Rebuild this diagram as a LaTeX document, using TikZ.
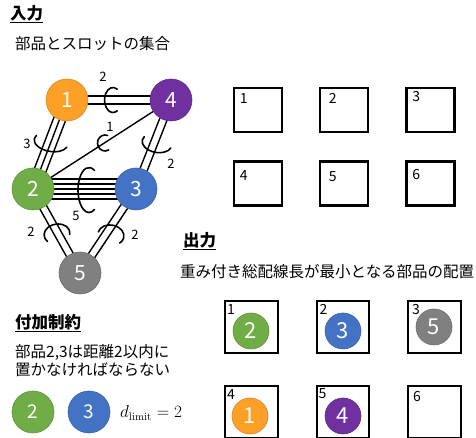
\documentclass[tikz,border=0pt]{standalone}
\usepackage[no-math]{fontspec}
\setmainfont{Noto Sans CJK JP}
\usetikzlibrary{calc}
\definecolor{corange}{RGB}{252,160,40}
\definecolor{cpurple}{RGB}{112,48,160}
\definecolor{cgreen}{RGB}{112,173,71}
\definecolor{cblue}{RGB}{68,114,196}
\definecolor{cgrey}{RGB}{128,128,128}
\pgfdeclarelayer{bg}
\pgfsetlayers{bg,main}
\newcommand{\bundle}[4]{%
  \foreach \k in {1,...,#3}{%
    \pgfmathsetmacro\off{(\k-(#3+1)/2)*#4}%
    \draw[wire] ($(#1)!\off pt!90:(#2)$) -- ($(#2)!\off pt!-90:(#1)$);
  }}
\newcommand{\ringarc}[7]{%
  \draw[ringline, rotate around={#3:(#1,#2)}] (#1,#2) ++(#6:#4pt and #5pt)
    arc[start angle=#6, end angle=#7, x radius=#4pt, y radius=#5pt];}
\tikzset{
  wire/.style={line width=1.4pt, black},
  ringline/.style={line width=1.6pt, black, line cap=round},
  part/.style={circle, minimum size=42pt, inner sep=0pt, text=white, line width=0.6pt,
    font=\fontsize{21}{21}\selectfont},
  outpart/.style={part, minimum size=36pt, font=\fontsize{22}{22}\selectfont},
  slotbox/.style={draw, line width=2.4pt, minimum width=48pt, minimum height=44pt, inner sep=0pt},
  outslot/.style={slotbox, minimum width=52.5pt, minimum height=51.5pt},
  slotnum/.style={inner sep=0pt, font=\fontsize{14}{14}\selectfont},
  wlabel/.style={inner sep=0pt, font=\fontsize{13}{13}\selectfont},
  title/.style={inner sep=0pt, anchor=west, font=\bfseries\fontsize{16.5}{20}\selectfont},
  body/.style={inner sep=0pt, anchor=west, align=left, font=\fontsize{15.5}{18}\selectfont},
}
\begin{document}
\begin{tikzpicture}[x=1pt,y=1pt]
\useasboundingbox (0,0) rectangle (476,438);
% titles and texts
\node[title] (tin) at (10,424) {\underline{入力}};
\node[body] (tinsub) at (15,394) {部品とスロットの集合};
\node[title] (tout) at (183,197) {\underline{出力}};
\node[body] (toutsub) at (180,166) {重み付き総配線長が最小となる部品の配置};
\node[title] (tcon) at (15,115) {\underline{付加制約}};
\node[body] (tconsub) at (15,77) {部品2,3は距離2以内に\\置かなければならない};
% input graph nodes
\node[part, fill=corange, draw=corange!85!black] (n1) at (67,338) {1};
\node[part, fill=cpurple, draw=cpurple!85!black] (n4) at (171,338) {4};
\node[part, fill=cgreen, draw=cgreen!85!black] (n2) at (33,249) {2};
\node[part, fill=cblue, draw=cblue!85!black] (n3) at (136,249) {3};
\node[part, fill=cgrey, draw=cgrey!85!black] (n5) at (80,165) {5};
\begin{pgfonlayer}{bg}
  \bundle{n1}{n4}{2}{8}
  \bundle{n1}{n2}{3}{6}
  \bundle{n2}{n4}{1}{0}
  \bundle{n4}{n3}{2}{7.5}
  \bundle{n2}{n3}{5}{5}
  \bundle{n2}{n5}{2}{7.5}
  \bundle{n3}{n5}{2}{7.5}
\end{pgfonlayer}
% rings
\ringarc{113}{338}{0}{8.5}{12.5}{60}{300}
\ringarc{89}{248}{0}{11}{22.5}{60}{300}
\ringarc{105}{295}{0}{7.5}{8}{70}{300}
\ringarc{51}{296}{-10}{17}{9.5}{155}{345}
\ringarc{157}{295}{-10}{15}{9.5}{155}{345}
\ringarc{57}{204}{10}{13}{10}{215}{-15}
\ringarc{111}{203}{-10}{13}{10}{175}{-40}
% weight labels
\node[wlabel] (w14) at (103,361) {2};
\node[wlabel] (w12) at (27,294) {3};
\node[wlabel] (w24) at (110,311) {1};
\node[wlabel] (w43) at (171,274) {2};
\node[wlabel] (w23) at (76,222) {5};
\node[wlabel] (w25) at (31,206) {2};
\node[wlabel] (w35) at (135,203) {2};
% input slots
\node[slotbox] (in1) at (258,328) {};
\node[slotbox] (in2) at (344,328) {};
\node[slotbox] (in3) at (430.5,328) {};
\node[slotbox] (in4) at (258,254.5) {};
\node[slotbox] (in5) at (344,254.5) {};
\node[slotbox] (in6) at (430.5,254.5) {};
\node[slotnum] (in1l) at ($(in1.north west)+(11,-12)$) {1};
\node[slotnum] (in2l) at ($(in2.north west)+(14,-12)$) {2};
\node[slotnum] (in3l) at ($(in3.north west)+(11,-10)$) {3};
\node[slotnum] (in4l) at ($(in4.north west)+(11,-15)$) {4};
\node[slotnum] (in5l) at ($(in5.north west)+(14,-16)$) {5};
\node[slotnum] (in6l) at ($(in6.north west)+(11,-14)$) {6};
% output slots
\node[outslot] (o1) at (251.5,111) {};
\node[outslot] (o2) at (343,111) {};
\node[outslot] (o3) at (434.5,111) {};
\node[outslot] (o4) at (251.5,26) {};
\node[outslot] (o5) at (343,26) {};
\node[outslot] (o6) at (434.5,26) {};
\node[slotnum] (o1l) at ($(o1.north west)+(7,-9)$) {1};
\node[slotnum] (o2l) at ($(o2.north west)+(8,-9)$) {2};
\node[slotnum] (o3l) at ($(o3.north west)+(9,-9)$) {3};
\node[slotnum] (o4l) at ($(o4.north west)+(7,-9)$) {4};
\node[slotnum] (o5l) at ($(o5.north west)+(7,-9)$) {5};
\node[slotnum] (o6l) at ($(o6.north west)+(10,-11)$) {6};
\node[outpart, fill=cgreen, draw=cgreen!85!black] (p2) at (251,107) {2};
\node[outpart, fill=cblue, draw=cblue!85!black] (p3) at (343,107) {3};
\node[outpart, fill=cgrey, draw=cgrey!85!black] (p5) at (434,111) {5};
\node[outpart, fill=corange, draw=corange!85!black] (p1) at (250,22) {1};
\node[outpart, fill=cpurple, draw=cpurple!85!black] (p4) at (343,22) {4};
% constraint
\node[part, fill=cgreen, draw=cgreen!85!black, font=\fontsize{19}{19}\selectfont] (c2) at (33,26) {2};
\node[part, fill=cblue, draw=cblue!85!black, font=\fontsize{19}{19}\selectfont] (c3) at (89,26) {3};
\node[inner sep=0pt, anchor=west, font=\fontsize{16}{16}\selectfont] (dl) at (120,25) {$d_{\mathrm{limit}} = 2$};
\end{tikzpicture}
\end{document}
